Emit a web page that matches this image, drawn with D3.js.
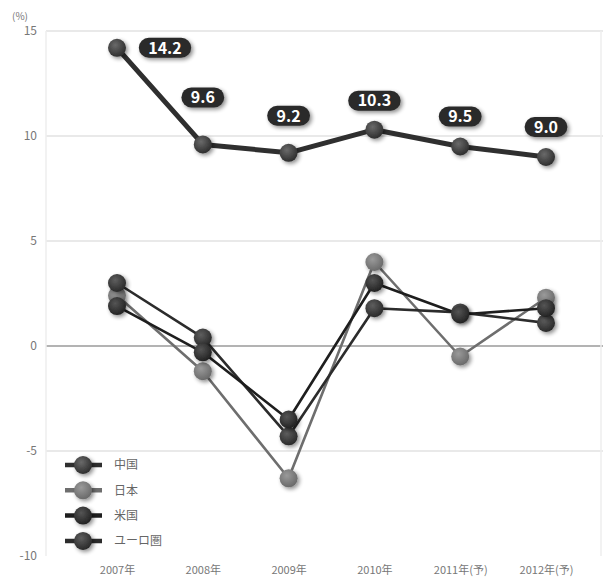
<!DOCTYPE html>
<html><head><meta charset="utf-8">
<script src="https://cdn.jsdelivr.net/npm/d3@7"></script>
<style>body{margin:0;background:#fff}svg{display:block}text{font-family:"Noto Sans CJK JP","Noto Sans",sans-serif}</style>
</head><body><div id="c"></div>
<script>
const years = ["2007年","2008年","2009年","2010年","2011年(予)","2012年(予)"];
const seriesNames = ["中国","日本","米国","ユーロ圏"];
const china = [14.2, 9.6, 9.2, 10.3, 9.5, 9.0];
const japan = [2.4, -1.2, -6.3, 4.0, -0.5, 2.3];
const usa = [1.9, -0.3, -3.5, 3.0, 1.5, 1.8];
const euro = [3.0, 0.4, -4.3, 1.8, 1.6, 1.1];
const yTicks = [15, 10, 5, 0, -5, -10];
const labelDy = [0, -47, -37, -29, -30, -30];

const W = 603, H = 583;
const svg = d3.select("#c").append("svg").attr("width", W).attr("height", H);
const defs = svg.append("defs");
const f = defs.append("filter").attr("id","sh").attr("x","-50%").attr("y","-50%").attr("width","200%").attr("height","200%");
f.append("feGaussianBlur").attr("in","SourceAlpha").attr("stdDeviation",2);
f.append("feOffset").attr("dx",1.5).attr("dy",2).attr("result","o");
f.append("feComponentTransfer").append("feFuncA").attr("type","linear").attr("slope",0.45);
const m = f.append("feMerge"); m.append("feMergeNode"); m.append("feMergeNode").attr("in","SourceGraphic");
const blur = defs.append("filter").attr("id","bl").attr("x","-50%").attr("y","-50%").attr("width","200%").attr("height","200%");
blur.append("feGaussianBlur").attr("stdDeviation",0.9);

function grad(id, c1, c2){
  const g = defs.append("radialGradient").attr("id",id).attr("cx","40%").attr("cy","35%").attr("r","65%");
  g.append("stop").attr("offset","0%").attr("stop-color",c1);
  g.append("stop").attr("offset","100%").attr("stop-color",c2);
}
grad("gC","#6a6a6a","#2e2e2e");
grad("gJ","#9a9a9a","#6a6a6a");
grad("gU","#555","#222");
grad("gE","#5e5e5e","#2a2a2a");

const x = d3.scalePoint().domain(years).range([117, 546]);
const y = d3.scaleLinear().domain([-10, 15]).range([556, 31]);

// grid
svg.append("g").selectAll("line").data(yTicks.filter(d => d !== -10)).join("line")
  .attr("x1", 46).attr("x2", 603).attr("y1", d => y(d)).attr("y2", d => y(d))
  .attr("stroke", d => d === 0 ? "#9a9a9a" : "#e2e2e2").attr("stroke-width", d => d === 0 ? 1.6 : 1.4);
svg.append("line").attr("x1",46).attr("x2",46).attr("y1",31).attr("y2",556).attr("stroke","#eee").attr("stroke-width",1.5);
svg.append("line").attr("x1",601).attr("x2",601).attr("y1",31).attr("y2",556).attr("stroke","#eee").attr("stroke-width",1.5);
svg.append("line").attr("x1",46).attr("x2",603).attr("y1",y(-10)+1).attr("y2",y(-10)+1)
  .attr("stroke","#999").attr("stroke-width",3).attr("filter","url(#bl)");

// y axis
const ya = d3.axisLeft(y).tickValues(yTicks).tickSize(0).tickPadding(0).tickFormat(d => String(d));
const yg = svg.append("g").attr("transform","translate(37,0)").call(ya);
yg.select(".domain").remove();
yg.selectAll("text").attr("fill","#777").attr("font-size",12).attr("font-family","Liberation Sans, sans-serif");
svg.append("text").attr("x",12).attr("y",20).attr("fill","#777").attr("font-size",10).text("(%)");

// x axis
const xa = d3.axisBottom(x).tickSize(0).tickPadding(0);
const xg = svg.append("g").attr("transform","translate(0,566)").call(xa);
xg.select(".domain").remove();
xg.selectAll("text").attr("fill","#777").attr("font-size",11).attr("dy","0.71em");

const series = [
  {name:"中国", vals:china, line:"#2f2f2f", w:5, g:"gC"},
  {name:"日本", vals:japan, line:"#6e6e6e", w:2.6, g:"gJ"},
  {name:"米国", vals:usa, line:"#1e1e1e", w:2.6, g:"gU"},
  {name:"ユーロ圏", vals:euro, line:"#2c2c2c", w:2.6, g:"gE"}
];
const line = d3.line().x((d,i) => x(years[i])).y(d => y(d));
const order = [1,3,2,0];
order.forEach(k => {
  const s = series[k];
  svg.append("path").datum(s.vals).attr("d", line).attr("fill","none")
    .attr("stroke", s.line).attr("stroke-width", s.w).attr("stroke-linejoin","round");
});
order.forEach(k => {
  const s = series[k];
  svg.append("g").selectAll("circle").data(s.vals).join("circle")
    .attr("cx",(d,i)=>x(years[i])).attr("cy",d=>y(d)).attr("r",9)
    .attr("fill",`url(#${s.g})`).attr("filter","url(#sh)");
});

// china labels
const lab = svg.append("g").selectAll("g").data(china).join("g")
  .attr("transform",(d,i)=> i===0 ? `translate(${x(years[i])+48},${y(d)})` : `translate(${x(years[i])},${y(d)+labelDy[i]})`);
lab.append("rect").attr("x",d=> -(String(d.toFixed(1)).length*4.8+7)).attr("y",-10)
  .attr("width",d=> String(d.toFixed(1)).length*9.6+14).attr("height",20).attr("rx",10)
  .attr("fill","#2a2a2a").attr("filter","url(#sh)");
lab.append("text").attr("text-anchor","middle").attr("dy","0.36em").attr("fill","#fff")
  .attr("font-size",16).attr("font-weight","bold").attr("font-family","DejaVu Sans, sans-serif")
  .text(d=>d.toFixed(1));

// legend
const lg = svg.append("g").selectAll("g").data(series).join("g")
  .attr("transform",(d,i)=>`translate(0,${465 + i*25.3})`);
lg.append("line").attr("x1",65).attr("x2",102).attr("stroke",d=>d.line).attr("stroke-width",4.5);
lg.append("circle").attr("cx",83).attr("r",9).attr("fill",d=>`url(#${d.g})`).attr("filter","url(#sh)");
lg.append("text").attr("x",114).attr("dy","0.36em").attr("fill","#666").attr("font-size",12).text(d=>d.name);
</script></body></html>
